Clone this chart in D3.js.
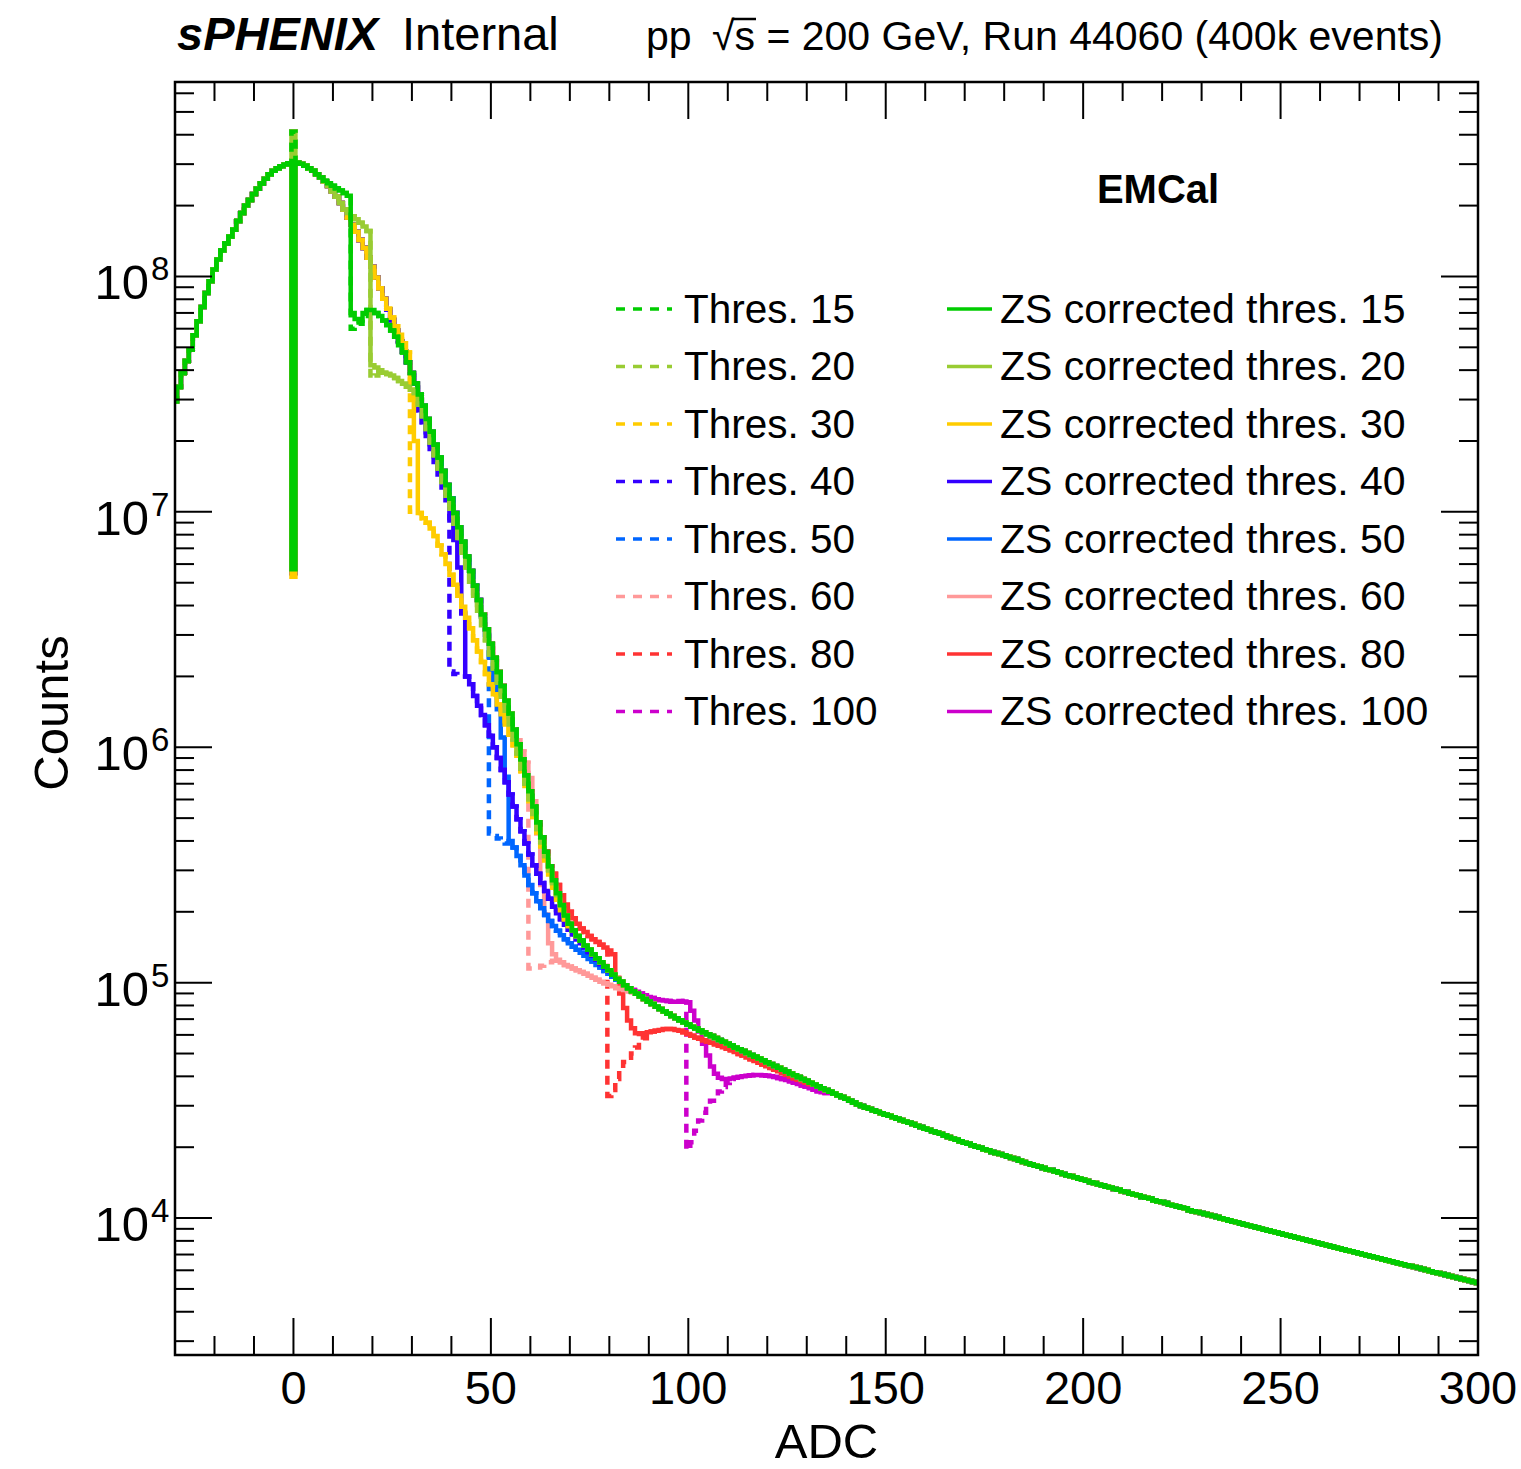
<!DOCTYPE html>
<html lang="en">
<head>
<meta charset="UTF-8">
<title>sPHENIX EMCal ADC spectra</title>
<script src="https://d3js.org/d3.v7.min.js"></script>
<style>
  body { margin: 0; background: #fff; }
  text { font-family: "Liberation Sans", Arial, Helvetica, sans-serif; fill: #000; }
</style>
</head>
<body>
<div id="chart"></div>
<script>
// ---- data ----
// ADC bins are 1 wide, centred on integers
const binCenters = d3.range(-30, 301);

// spectrum shared by all histograms away from their thresholds (bins -30 .. 300)
const baseCounts = [
  2.95e7, 3.39e7, 3.89e7, 4.37e7, 4.90e7, 5.62e7, 6.46e7, 7.41e7, 8.51e7, 9.55e7,
  1.07e8, 1.18e8, 1.29e8, 1.38e8, 1.48e8, 1.58e8, 1.72e8, 1.86e8, 2.00e8, 2.11e8,
  2.24e8, 2.36e8, 2.48e8, 2.60e8, 2.72e8, 2.81e8, 2.88e8, 2.94e8, 2.99e8, 3.03e8,
  3.05e8, 3.05e8, 3.01e8, 2.95e8, 2.88e8, 2.81e8, 2.72e8, 2.63e8, 2.53e8, 2.42e8,
  2.30e8, 2.18e8, 2.05e8, 1.92e8, 1.78e8, 1.66e8, 1.55e8, 1.43e8, 1.32e8, 1.20e8,
  1.10e8, 9.89e7, 8.91e7, 8.04e7, 7.24e7, 6.53e7, 5.89e7, 5.31e7, 4.79e7, 4.32e7,
  3.89e7, 3.51e7, 3.15e7, 2.82e7, 2.48e7, 2.19e7, 1.93e7, 1.70e7, 1.49e7, 1.30e7,
  1.14e7, 9.89e6, 8.61e6, 7.46e6, 6.47e6, 5.61e6, 4.86e6, 4.22e6, 3.66e6, 3.17e6,
  2.75e6, 2.40e6, 2.09e6, 1.82e6, 1.58e6, 1.39e6, 1.19e6, 1.03e6, 8.90e5, 7.60e5,
  6.50e5, 5.60e5, 4.80e5, 4.15e5, 3.60e5, 3.12e5, 2.72e5, 2.40e5, 2.14e5, 1.93e5,
  1.78e5, 1.67e5, 1.58e5, 1.51e5, 1.44e5, 1.38e5, 1.32e5, 1.27e5, 1.22e5, 1.17e5,
  1.13e5, 1.08e5, 1.04e5, 1.01e5, 9.75e4, 9.46e4, 9.20e4, 8.97e4, 8.75e4, 8.53e4,
  8.32e4, 8.11e4, 7.91e4, 7.73e4, 7.55e4, 7.38e4, 7.21e4, 7.06e4, 6.92e4, 6.78e4,
  6.64e4, 6.50e4, 6.38e4, 6.27e4, 6.15e4, 6.04e4, 5.93e4, 5.82e4, 5.71e4, 5.61e4,
  5.51e4, 5.41e4, 5.31e4, 5.21e4, 5.12e4, 5.02e4, 4.93e4, 4.85e4, 4.76e4, 4.68e4,
  4.59e4, 4.51e4, 4.43e4, 4.35e4, 4.27e4, 4.19e4, 4.11e4, 4.04e4, 3.97e4, 3.90e4,
  3.83e4, 3.76e4, 3.69e4, 3.63e4, 3.56e4, 3.50e4, 3.44e4, 3.38e4, 3.32e4, 3.27e4,
  3.21e4, 3.15e4, 3.10e4, 3.04e4, 2.99e4, 2.95e4, 2.91e4, 2.87e4, 2.83e4, 2.79e4,
  2.75e4, 2.72e4, 2.68e4, 2.64e4, 2.61e4, 2.57e4, 2.54e4, 2.51e4, 2.47e4, 2.44e4,
  2.40e4, 2.37e4, 2.34e4, 2.31e4, 2.28e4, 2.24e4, 2.21e4, 2.18e4, 2.15e4, 2.12e4,
  2.09e4, 2.07e4, 2.04e4, 2.01e4, 1.99e4, 1.96e4, 1.94e4, 1.91e4, 1.89e4, 1.87e4,
  1.85e4, 1.82e4, 1.80e4, 1.78e4, 1.75e4, 1.73e4, 1.71e4, 1.69e4, 1.67e4, 1.65e4,
  1.63e4, 1.61e4, 1.60e4, 1.58e4, 1.56e4, 1.54e4, 1.52e4, 1.51e4, 1.49e4, 1.47e4,
  1.46e4, 1.44e4, 1.42e4, 1.41e4, 1.39e4, 1.38e4, 1.36e4, 1.35e4, 1.33e4, 1.32e4,
  1.30e4, 1.29e4, 1.27e4, 1.26e4, 1.25e4, 1.23e4, 1.22e4, 1.21e4, 1.19e4, 1.18e4,
  1.17e4, 1.16e4, 1.14e4, 1.13e4, 1.12e4, 1.11e4, 1.10e4, 1.08e4, 1.07e4, 1.06e4,
  1.05e4, 1.04e4, 1.03e4, 1.02e4, 1.01e4, 9.98e3, 9.89e3, 9.77e3, 9.68e3, 9.59e3,
  9.49e3, 9.40e3, 9.31e3, 9.20e3, 9.12e3, 9.04e3, 8.93e3, 8.85e3, 8.77e3, 8.69e3,
  8.59e3, 8.51e3, 8.43e3, 8.35e3, 8.27e3, 8.19e3, 8.11e3, 8.03e3, 7.95e3, 7.87e3,
  7.80e3, 7.72e3, 7.65e3, 7.57e3, 7.50e3, 7.43e3, 7.36e3, 7.29e3, 7.22e3, 7.15e3,
  7.08e3, 7.01e3, 6.94e3, 6.88e3, 6.81e3, 6.75e3, 6.68e3, 6.62e3, 6.55e3, 6.49e3,
  6.43e3, 6.37e3, 6.31e3, 6.25e3, 6.19e3, 6.13e3, 6.07e3, 6.01e3, 5.95e3, 5.89e3,
  5.84e3, 5.78e3, 5.73e3, 5.67e3, 5.62e3, 5.56e3, 5.51e3, 5.46e3, 5.40e3, 5.35e3,
  5.30e3
];

const thresholds = [15, 20, 30, 40, 50, 60, 80, 100];
const thresColors = ["#00cc00", "#99cc33", "#ffcc00", "#3300ff", "#0066ff", "#ff9999", "#ff3333", "#cc00cc"];

// ZS corrected histograms: counts where they leave the shared spectrum, from the first bin given
const zs15FirstBin = 8;
const zs15Counts = [2.55e8, 2.49e8, 2.43e8, 2.37e8, 2.32e8, 2.26e8, 2.20e8, 7.0e7, 6.6e7, 6.5e7,
  7.0e7, 7.2e7, 7.2e7, 7.0e7, 6.8e7, 6.5e7, 6.2e7, 5.9e7, 5.55e7, 5.1e7, 4.75e7];

const zs20FirstBin = 13;
const zs20Counts = [1.93e8, 1.86e8, 1.80e8, 1.75e8, 1.69e8, 1.63e8, 1.56e8,
  4.2e7, 4.1e7, 4.0e7, 3.9e7, 3.85e7, 3.8e7, 3.7e7, 3.6e7, 3.5e7, 3.4e7, 3.3e7, 3.2e7,
  2.85e7, 2.55e7, 2.25e7, 1.97e7, 1.74e7, 1.53e7, 1.34e7, 1.17e7,
  1.03e7, 8.9e6, 7.75e6, 6.7e6, 5.8e6, 5.05e6, 4.4e6, 3.8e6, 3.3e6, 2.85e6,
  2.48e6, 2.16e6, 1.88e6, 1.64e6, 1.43e6, 1.25e6, 1.08e6, 9.4e5, 8.1e5, 7.0e5,
  6.0e5, 5.2e5, 4.5e5, 3.95e5, 3.45e5, 3.0e5, 2.65e5, 2.36e5, 2.12e5];

const zs30FirstBin = 24;
const zs30Counts = [7.3e7, 6.7e7, 6.15e7, 5.65e7, 5.2e7, 4.75e7, 3.3e7, 2.0e7,
  9.9e6, 9.4e6, 9.0e6, 8.5e6, 7.9e6, 7.2e6, 6.6e6, 6.0e6,
  5.4e6, 4.9e6, 4.4e6, 3.95e6, 3.55e6, 3.2e6, 2.85e6, 2.55e6, 2.3e6, 2.05e6,
  1.85e6, 1.68e6, 1.52e6, 1.38e6, 1.25e6, 1.13e6, 1.02e6, 9.2e5, 7.9e5, 6.85e5,
  5.9e5, 5.05e5, 4.35e5, 3.8e5, 3.3e5, 2.88e5, 2.53e5, 2.25e5, 2.03e5, 1.86e5, 1.74e5];

const zs40FirstBin = 32;
const zs40Counts = [2.7e7, 2.4e7, 2.1e7, 1.85e7, 1.63e7, 1.44e7, 1.27e7, 1.12e7,
  9.4e6, 7.6e6, 5.8e6, 3.7e6, 2.0e6, 1.85e6, 1.65e6, 1.5e6, 1.37e6, 1.24e6,
  1.12e6, 1.0e6, 9.0e5, 8.0e5, 7.1e5, 6.3e5, 5.6e5, 4.95e5, 4.4e5, 3.9e5,
  3.5e5, 3.15e5, 2.9e5, 2.65e5, 2.45e5, 2.27e5, 2.1e5, 1.97e5, 1.86e5, 1.76e5,
  1.68e5, 1.60e5, 1.53e5, 1.47e5, 1.41e5, 1.35e5, 1.30e5, 1.25e5, 1.20e5, 1.16e5, 1.12e5];

const zs50FirstBin = 48;
const zs50Counts = [3.6e6, 3.0e6, 2.4e6, 1.9e6, 1.45e6, 1.1e6, 7.5e5, 4.0e5, 3.75e5, 3.45e5,
  3.15e5, 2.85e5, 2.6e5, 2.4e5, 2.22e5, 2.07e5, 1.94e5, 1.83e5, 1.74e5, 1.66e5,
  1.59e5, 1.53e5, 1.47e5, 1.42e5, 1.38e5, 1.34e5, 1.30e5, 1.26e5, 1.23e5, 1.19e5,
  1.16e5, 1.12e5, 1.09e5, 1.06e5, 1.03e5];

const zs60FirstBin = 57;
const zs60Counts = [1.07e6, 9.6e5, 8.6e5, 7.4e5, 5.9e5, 4.3e5, 2.6e5, 1.95e5, 1.47e5, 1.32e5,
  1.25e5, 1.22e5, 1.19e5, 1.17e5, 1.15e5, 1.13e5, 1.11e5, 1.09e5, 1.07e5, 1.05e5,
  1.03e5, 1.01e5, 9.95e4, 9.8e4, 9.65e4, 9.5e4, 9.4e4, 9.3e4, 9.2e4, 9.1e4];

const zs80FirstBin = 66;
const zs80Counts = [2.9e5, 2.6e5, 2.35e5, 2.15e5, 2.0e5, 1.88e5, 1.78e5, 1.70e5, 1.64e5, 1.58e5,
  1.53e5, 1.49e5, 1.45e5, 1.41e5, 1.37e5, 1.32e5, 1.05e5, 9.0e4, 7.8e4, 6.9e4,
  6.4e4, 6.1e4, 6.05e4, 6.1e4, 6.15e4, 6.2e4, 6.25e4, 6.3e4, 6.35e4, 6.35e4,
  6.35e4, 6.3e4, 6.25e4, 6.15e4, 6.05e4, 5.95e4, 5.85e4, 5.78e4, 5.7e4, 5.62e4,
  5.55e4, 5.47e4, 5.40e4, 5.32e4, 5.24e4, 5.16e4, 5.07e4, 4.98e4, 4.90e4, 4.81e4,
  4.73e4, 4.65e4, 4.57e4, 4.49e4, 4.41e4, 4.34e4, 4.27e4, 4.20e4, 4.13e4, 4.06e4,
  3.99e4, 3.93e4, 3.87e4, 3.81e4, 3.76e4, 3.71e4];

const zs100FirstBin = 86;
const zs100Counts = [9.3e4, 9.15e4, 9.0e4, 8.85e4, 8.7e4, 8.6e4, 8.5e4, 8.45e4, 8.4e4, 8.35e4,
  8.3e4, 8.3e4, 8.35e4, 8.3e4, 8.25e4, 7.6e4, 6.9e4, 6.2e4, 5.5e4, 4.9e4,
  4.4e4, 4.1e4, 3.95e4, 3.9e4, 3.9e4, 3.92e4, 3.95e4, 3.97e4, 4.0e4, 4.02e4,
  4.04e4, 4.05e4, 4.05e4, 4.04e4, 4.02e4, 4.0e4, 3.97e4, 3.94e4, 3.90e4, 3.86e4,
  3.81e4, 3.76e4, 3.71e4, 3.66e4, 3.61e4, 3.56e4, 3.51e4, 3.46e4, 3.42e4, 3.40e4, 3.40e4];

// plain "Thres." histograms follow their ZS corrected partner except in the dip after the threshold
const thres15Dip = [6.0e7, 6.1e7, 6.3e7, 6.8e7];
const thres20Dip = [3.7e7, 3.8e7];
const thres30Dip = [1.0e7, 1.0e7];
const thres40Dip = [2.1e6, 2.05e6, 2.0e6, 2.0e6];
const thres50Dip = [4.3e5, 4.2e5, 4.1e5, 4.0e5, 3.9e5];
const thres60Dip = [1.15e5, 1.15e5, 1.16e5, 1.18e5, 1.20e5, 1.22e5, 1.24e5];
const thres80Dip = [3.3e4, 3.5e4, 3.9e4, 4.3e4, 4.6e4, 4.8e4, 5.0e4, 5.3e4, 5.6e4, 5.8e4, 6.0e4];
const thres100Dip = [1.95e4, 2.1e4, 2.35e4, 2.6e4, 2.8e4, 3.0e4, 3.15e4, 3.3e4, 3.45e4, 3.6e4, 3.75e4, 3.9e4];

// the ADC = 0 bin
const binZeroThres = 4.12e8;
const binZeroZS = [5.7e6, 4.12e8, 5.3e6, 5.5e6, 5.5e6, 5.5e6, 5.5e6, 5.5e6];

const xMajorTicks = [0, 50, 100, 150, 200, 250, 300];
const xMinorTicks = [-20, -10, 10, 20, 30, 40, 60, 70, 80, 90, 110, 120, 130, 140, 160, 170, 180, 190,
  210, 220, 230, 240, 260, 270, 280, 290];
const yDecades = [4, 5, 6, 7, 8];

// ---- layout ----
const width = 1521, height = 1469;
const frame = { left: 175, right: 1478, top: 82, bottom: 1355 };
const majorLen = 37, minorLen = 19;

const svg = d3.select('#chart').append('svg')
  .attr('width', width).attr('height', height)
  .style('display', 'block');

const x = d3.scaleLinear().domain([-30, 300]).range([frame.left, frame.right]);
const y = d3.scaleLog().domain([2620, 6.7e8]).range([frame.bottom, frame.top]);

// ---- build the 16 histograms ----
const zsWindows = [
  [zs15FirstBin, zs15Counts], [zs20FirstBin, zs20Counts], [zs30FirstBin, zs30Counts],
  [zs40FirstBin, zs40Counts], [zs50FirstBin, zs50Counts], [zs60FirstBin, zs60Counts],
  [zs80FirstBin, zs80Counts], [zs100FirstBin, zs100Counts]
];
const thresDips = [thres15Dip, thres20Dip, thres30Dip, thres40Dip, thres50Dip, thres60Dip, thres80Dip, thres100Dip];

function overlay(parent, firstBin, values, binZero) {
  return binCenters.map((b, i) => {
    if (b === 0) return binZero;
    const k = b - firstBin;
    if (k >= 0 && k < values.length) return values[k];
    return parent[i];
  });
}

const series = [];
thresholds.forEach((t, i) => {
  const zs = overlay(baseCounts, zsWindows[i][0], zsWindows[i][1], binZeroZS[i]);
  const raw = overlay(zs, t, thresDips[i], binZeroThres);
  series.push({ idx: i, dashed: true, values: raw });
  series.push({ idx: i, dashed: false, values: zs });
});
// draw the highest threshold first so the 15 ADC curves end up on top
const drawOrder = d3.range(thresholds.length).reverse()
  .flatMap(i => series.filter(s => s.idx === i));

svg.append('clipPath').attr('id', 'plotClip').append('rect')
  .attr('x', frame.left).attr('y', frame.top)
  .attr('width', frame.right - frame.left).attr('height', frame.bottom - frame.top);

const step = d3.line().x(d => x(d[0])).y(d => y(d[1])).curve(d3.curveStepAfter);

const plot = svg.append('g').attr('clip-path', 'url(#plotClip)');
plot.selectAll('path.hist')
  .data(drawOrder)
  .enter().append('path')
  .attr('class', 'hist')
  .attr('d', s => {
    const pts = binCenters.map((b, i) => [b - 0.5, s.values[i]]);
    pts.push([binCenters[binCenters.length - 1] + 0.5, s.values[s.values.length - 1]]);
    return step(pts);
  })
  .attr('fill', 'none')
  .attr('stroke', s => thresColors[s.idx])
  .attr('stroke-width', 4.5)
  .attr('stroke-linejoin', 'miter')
  .attr('stroke-dasharray', s => s.dashed ? '9,7' : null);

// ---- axes ----
const axes = svg.append('g').attr('stroke', '#000').attr('stroke-width', 2);

function xTick(v, len) {
  const xx = x(v);
  axes.append('line').attr('x1', xx).attr('x2', xx).attr('y1', frame.bottom).attr('y2', frame.bottom - len);
  axes.append('line').attr('x1', xx).attr('x2', xx).attr('y1', frame.top).attr('y2', frame.top + len);
}
xMajorTicks.forEach(v => xTick(v, majorLen));
xMinorTicks.forEach(v => xTick(v, minorLen));

function yTick(v, len) {
  const yy = y(v);
  axes.append('line').attr('x1', frame.left).attr('x2', frame.left + len).attr('y1', yy).attr('y2', yy);
  axes.append('line').attr('x1', frame.right).attr('x2', frame.right - len).attr('y1', yy).attr('y2', yy);
}
const [yLo, yHi] = y.domain();
d3.range(3, 9).forEach(n => {
  d3.range(1, 10).forEach(m => {
    const v = m * Math.pow(10, n);
    if (v < yLo || v > yHi) return;
    yTick(v, m === 1 ? majorLen : minorLen);
  });
});

svg.append('rect')
  .attr('x', frame.left).attr('y', frame.top)
  .attr('width', frame.right - frame.left).attr('height', frame.bottom - frame.top)
  .attr('fill', 'none').attr('stroke', '#000').attr('stroke-width', 2.5);

// tick labels
svg.selectAll('text.xlab')
  .data(xMajorTicks)
  .enter().append('text')
  .attr('class', 'xlab')
  .attr('x', d => x(d)).attr('y', 1404)
  .attr('text-anchor', 'middle').attr('font-size', 47)
  .text(d => d);

yDecades.forEach(n => {
  const yy = y(Math.pow(10, n));
  svg.append('text').attr('x', 149).attr('y', yy + 23)
    .attr('text-anchor', 'end').attr('font-size', 49).text('10');
  svg.append('text').attr('x', 151).attr('y', yy + 4)
    .attr('font-size', 33).text(n);
});

// axis titles
svg.append('text').attr('x', (frame.left + frame.right) / 2).attr('y', 1458)
  .attr('text-anchor', 'middle').attr('font-size', 49).text('ADC');
svg.append('text').attr('transform', 'translate(68,713) rotate(-90)')
  .attr('text-anchor', 'middle').attr('font-size', 49).text('Counts');

// ---- header ----
svg.append('text').attr('x', 177).attr('y', 50)
  .attr('font-size', 47).attr('font-weight', 'bold').attr('font-style', 'italic').text('sPHENIX');
svg.append('text').attr('x', 402).attr('y', 50).attr('font-size', 47).text('Internal');

const runLabel = svg.append('text').attr('x', 1443).attr('y', 50)
  .attr('text-anchor', 'end').attr('font-size', 41)
  .text('pp\u2002\u221As = 200 GeV, Run 44060 (400k events)');
{
  const node = runLabel.node();
  const rootBox = node.getExtentOfChar(3);
  const sBox = node.getExtentOfChar(4);
  svg.append('line')
    .attr('x1', rootBox.x + rootBox.width - 2).attr('x2', sBox.x + sBox.width + 1)
    .attr('y1', 19).attr('y2', 19)
    .attr('stroke', '#000').attr('stroke-width', 2.5);
}

svg.append('text').attr('x', 1158).attr('y', 203)
  .attr('text-anchor', 'middle').attr('font-size', 40).attr('font-weight', 'bold').text('EMCal');

// ---- legend ----
const legend = svg.append('g');
thresholds.forEach((t, i) => {
  const cy = 309 + i * 57.5;
  legend.append('line').attr('x1', 616).attr('x2', 672).attr('y1', cy).attr('y2', cy)
    .attr('stroke', thresColors[i]).attr('stroke-width', 3.5).attr('stroke-dasharray', '9,8');
  legend.append('text').attr('x', 684).attr('y', cy + 13.5).attr('font-size', 40.5)
    .text('Thres. ' + t);
  legend.append('line').attr('x1', 947).attr('x2', 992).attr('y1', cy).attr('y2', cy)
    .attr('stroke', thresColors[i]).attr('stroke-width', 3.5);
  legend.append('text').attr('x', 1000).attr('y', cy + 13.5).attr('font-size', 41)
    .text('ZS corrected thres. ' + t);
});
</script>
</body>
</html>
